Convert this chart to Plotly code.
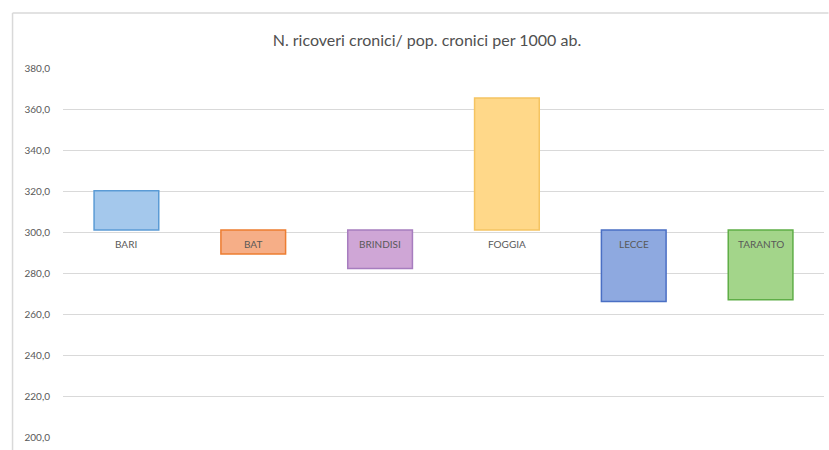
import plotly.graph_objects as go

categories = ["BARI", "BAT", "BRINDISI", "FOGGIA", "LECCE", "TARANTO"]
values = [320.1, 289.3, 282.2, 365.4, 266.1, 267.0]
base_value = 301.0
fill_colors = ["#A4C8EC", "#F6AE87", "#CFA6D6", "#FFD889", "#8EA9E0", "#A3D58A"]
line_colors = ["#5B9BD5", "#ED7D31", "#A77DBF", "#F5C461", "#4A6FC4", "#5FAE47"]
y_ticks = [200, 220, 240, 260, 280, 300, 320, 340, 360, 380]

fig = go.Figure()
fig.add_trace(go.Bar(
    x=categories,
    y=[v - base_value for v in values],
    base=[base_value] * len(values),
    marker=dict(color=fill_colors, line=dict(color=line_colors, width=1.5)),
    width=0.51,
    showlegend=False,
))

for c in categories:
    fig.add_annotation(x=c, y=base_value, xref="x", yref="y", text=c,
                       showarrow=False, yanchor="top", yshift=-6,
                       font=dict(family="Lato, Open Sans, sans-serif", size=10, color="#595959"))

# chart frame (top and left edges visible in the crop)
fig.add_shape(type="line", xref="paper", yref="paper",
              x0=-0.0663, x1=1.0059, y0=1.149, y1=1.149,
              line=dict(color="#D9D9D9", width=1.5), layer="below")
fig.add_shape(type="line", xref="paper", yref="paper",
              x0=-0.0663, x1=-0.0663, y0=-0.035, y1=1.149,
              line=dict(color="#D9D9D9", width=1.5), layer="below")

fig.update_layout(
    width=829, height=450,
    margin=dict(l=62.5, r=4.5, t=68, b=13),
    paper_bgcolor="white", plot_bgcolor="white",
    separators=",.",
    title=dict(text="N. ricoveri cronici/ pop. cronici per 1000 ab.",
               x=0.515, xanchor="center", y=1 - 40 / 450, yanchor="middle",
               font=dict(family="Lato, Open Sans, sans-serif", size=16, color="#505050")),
    xaxis=dict(showticklabels=False, showgrid=False, zeroline=False, showline=False,
               range=[-0.5, 5.5]),
    yaxis=dict(range=[200, 380], tickvals=y_ticks, tickformat=".1f",
               showgrid=True, gridcolor="#D9D9D9", gridwidth=1, zeroline=False,
               showline=False, ticks="", ticklabelstandoff=12,
               tickfont=dict(family="Lato, Open Sans, sans-serif", size=10, color="#595959")),
    bargap=0.49,
)

fig.write_html("out.html", config={"displayModeBar": False})
